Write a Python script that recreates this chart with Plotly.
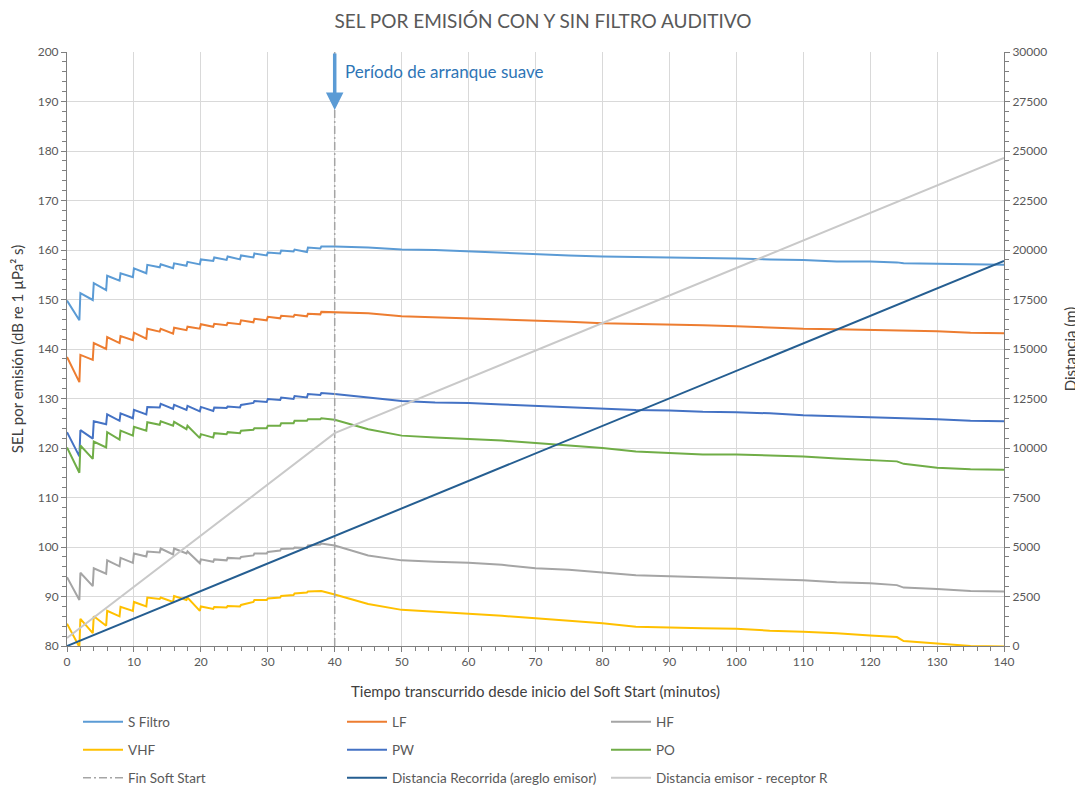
import plotly.graph_objects as go

# ---------------- data ----------------
jump_times = list(range(0, 40, 2))  # start of each soft-start step (min)
post_times = [40, 45, 50, 55, 60, 65, 70, 75, 80, 85, 90, 95, 100, 105, 110,
              115, 120, 124, 125, 130, 135, 140]

sfiltro_peaks = [149.8, 151.3, 153.3, 154.8, 155.3, 156.3, 157.0, 157.1, 157.3, 157.6,
                 158.1, 158.5, 158.7, 158.9, 159.3, 159.5, 159.9, 160.1, 160.5, 160.7]
sfiltro_troughs = [145.8, 149.9, 151.9, 153.8, 154.5, 155.3, 156.5, 156.3, 156.8, 157.1,
                   157.8, 158.0, 158.1, 158.5, 158.9, 159.3, 159.7, 159.6, 160.3]
sfiltro_post = [160.7, 160.5, 160.1, 160.0, 159.7, 159.4, 159.1, 158.9, 158.7, 158.6, 158.6,
                158.4, 158.3, 158.1, 158.0, 157.7, 157.7, 157.5, 157.3, 157.2, 157.1, 157.0]

lf_peaks = [138.4, 138.8, 141.2, 142.4, 142.6, 143.3, 144.1, 144.1, 144.3, 144.5,
            145.0, 145.1, 145.3, 145.8, 146.1, 146.5, 146.7, 146.9, 147.1, 147.5]
lf_troughs = [133.3, 137.8, 140.0, 141.2, 141.8, 142.1, 143.5, 143.1, 143.8, 144.1,
              144.5, 144.8, 145.0, 145.4, 145.8, 146.2, 146.5, 146.6, 147.0]
lf_post = [147.4, 147.2, 146.6, 146.4, 146.2, 146.0, 145.7, 145.5, 145.2, 145.1, 145.0,
           144.8, 144.6, 144.3, 144.1, 144.0, 143.9, 143.8, 143.7, 143.6, 143.3, 143.2]

hf_peaks = [93.9, 94.8, 95.7, 97.3, 97.8, 98.7, 99.1, 99.7, 99.7, 99.1,
            97.5, 97.5, 97.8, 98.0, 98.7, 99.0, 99.6, 99.9, 100.3, 100.7]
hf_troughs = [89.3, 92.1, 94.6, 96.1, 96.8, 98.1, 98.9, 98.5, 98.7, 96.7,
              97.0, 97.3, 97.7, 98.3, 98.7, 99.3, 99.7, 99.8, 100.5]
hf_post = [100.3, 98.3, 97.3, 97.0, 96.8, 96.4, 95.7, 95.4, 94.9, 94.3, 94.1,
           93.9, 93.8, 93.5, 93.3, 92.9, 92.7, 92.3, 91.8, 91.5, 91.1, 91.0]

vhf_peaks = [84.5, 85.5, 86.0, 87.1, 87.9, 88.9, 89.8, 89.8, 90.1, 89.8,
             88.0, 87.9, 88.1, 88.3, 89.3, 89.6, 90.1, 90.6, 91.0, 91.1]
vhf_troughs = [79.8, 82.6, 84.1, 86.0, 87.1, 88.0, 89.5, 88.9, 89.3, 87.1,
               87.5, 87.8, 88.0, 88.9, 89.3, 89.8, 90.3, 90.8, 91.0]
vhf_post = [90.4, 88.5, 87.3, 86.9, 86.6, 86.1, 85.6, 85.1, 84.6, 83.9, 83.7,
            83.6, 83.5, 83.1, 82.9, 82.6, 82.1, 81.8, 81.0, 80.5, 80.0, 79.9]

pw_peaks = [123.2, 123.6, 125.4, 126.8, 127.0, 127.7, 128.3, 128.9, 128.7, 128.5,
            128.3, 128.2, 128.4, 128.7, 129.5, 129.9, 130.2, 130.5, 130.9, 131.1]
pw_troughs = [118.3, 121.9, 124.8, 125.5, 126.0, 126.8, 128.2, 127.9, 127.7, 127.4,
              127.5, 128.1, 128.2, 129.1, 129.3, 129.7, 129.9, 130.2, 130.7]
pw_post = [130.9, 130.2, 129.5, 129.2, 129.1, 128.8, 128.5, 128.3, 128.0, 127.7, 127.6,
           127.3, 127.2, 127.0, 126.6, 126.4, 126.3, 126.1, 126.0, 125.8, 125.5, 125.4]

po_peaks = [120.1, 120.5, 121.3, 123.2, 123.5, 124.3, 125.2, 125.4, 125.3, 124.5,
            122.8, 123.0, 123.2, 123.5, 124.0, 124.5, 125.0, 125.5, 125.8, 126.0]
po_troughs = [115.0, 117.8, 120.1, 121.7, 122.5, 123.5, 124.7, 124.5, 123.8, 122.0,
              122.1, 122.8, 123.0, 123.7, 124.0, 124.5, 125.0, 125.5, 125.8]
po_post = [125.7, 123.8, 122.5, 122.1, 121.8, 121.5, 121.0, 120.5, 120.0, 119.3, 119.0,
           118.7, 118.7, 118.5, 118.3, 117.9, 117.6, 117.3, 116.8, 116.0, 115.7, 115.6]

fin_soft_start_t = [40, 40]
fin_soft_start_y = [80, 200]

dist_recorrida_t = [0, 140]
dist_recorrida_m = [0, 19450]
dist_receptor_t = [0, 40, 140]
dist_receptor_m = [400, 10750, 24650]

x_ticks = list(range(0, 141, 10))

# ---------------- helpers ----------------
def build(peaks, troughs, post, step=0.15):
    xs, ys = [], []
    for i, t in enumerate(jump_times):
        if i > 0:
            xs.append(t - step)
            ys.append(troughs[i - 1])
        xs.append(t)
        ys.append(peaks[i])
    xs += post_times
    ys += post
    return xs, ys

FONT = "Lato"
TXT = "#595959"
# the page body has an 8 px margin, so the figure is 8 px smaller and offset
OFF = 8
W, H = 1083 - OFF, 788 - OFF

fig = go.Figure()

series = [
    ("S Filtro", sfiltro_peaks, sfiltro_troughs, sfiltro_post, "#5B9BD5", "legend"),
    ("LF", lf_peaks, lf_troughs, lf_post, "#ED7D31", "legend"),
    ("HF", hf_peaks, hf_troughs, hf_post, "#A5A5A5", "legend"),
    ("VHF", vhf_peaks, vhf_troughs, vhf_post, "#FFC000", "legend2"),
    ("PW", pw_peaks, pw_troughs, pw_post, "#4472C4", "legend2"),
    ("PO", po_peaks, po_troughs, po_post, "#70AD47", "legend2"),
]
for name, pk, tr, po, col, lg in series:
    xs, ys = build(pk, tr, po)
    fig.add_trace(go.Scatter(x=xs, y=ys, name=name, mode="lines",
                             line=dict(color=col, width=2), legend=lg))

fig.add_trace(go.Scatter(x=fin_soft_start_t, y=fin_soft_start_y, name="Fin Soft Start",
                         mode="lines", line=dict(color="#A5A5A5", width=1.5,
                                                 dash="8px,3px,2px,3px"),
                         legend="legend3"))
fig.add_trace(go.Scatter(x=dist_recorrida_t, y=dist_recorrida_m,
                         name="Distancia Recorrida (areglo emisor)", mode="lines",
                         line=dict(color="#255E91", width=2), yaxis="y2", legend="legend3"))
fig.add_trace(go.Scatter(x=dist_receptor_t, y=dist_receptor_m,
                         name="Distancia emisor - receptor R", mode="lines",
                         line=dict(color="#C9C9C9", width=2), yaxis="y2", legend="legend3"))

axis_common = dict(showline=True, linecolor="#7F7F7F", linewidth=1, ticks="outside",
                   tickcolor="#7F7F7F", ticklen=5, zeroline=False, automargin=False,
                   tickfont=dict(family=FONT, size=12, color=TXT))
title_font = dict(family=FONT, size=15, color="#404040")

leg_common = dict(orientation="h", x=70 / W, xanchor="left", xref="container",
                  yref="container", yanchor="middle",
                  entrywidth=209, entrywidthmode="pixels", itemwidth=40,
                  bgcolor="rgba(0,0,0,0)", font=dict(family=FONT, size=13.5, color=TXT))

fig.update_layout(
    width=W, height=H,
    margin=dict(l=67 - OFF, r=79, t=52 - OFF, b=142, autoexpand=False),
    paper_bgcolor="white", plot_bgcolor="white",
    showlegend=True,
    title=dict(text="SEL POR EMISIÓN CON Y SIN FILTRO AUDITIVO", x=(543 - OFF) / W,
               xanchor="center", xref="container", y=1 - (21 - OFF) / H, yref="container",
               yanchor="middle", font=dict(family=FONT, size=19, color=TXT)),
    xaxis=dict(range=[0, 140], tickvals=x_ticks, showgrid=True, gridcolor="#D9D9D9",
               minor=dict(dtick=2, ticks="outside", ticklen=4, tickcolor="#7F7F7F",
                          showgrid=False),
               title=dict(text="Tiempo transcurrido desde inicio del Soft Start (minutos)",
                          font=title_font, standoff=18),
               **axis_common),
    yaxis=dict(range=[80, 200], dtick=10, showgrid=True, gridcolor="#D9D9D9",
               minor=dict(dtick=2, ticks="outside", ticklen=4, tickcolor="#7F7F7F",
                          showgrid=False),
               title=dict(text="SEL por emisión (dB re 1 µPa² s)", font=title_font,
                          standoff=10),
               **axis_common),
    yaxis2=dict(range=[0, 30000], dtick=2500, tickformat="d", overlaying="y", side="right",
                showgrid=False,
                minor=dict(dtick=500, ticks="outside", ticklen=4, tickcolor="#7F7F7F"),
                title=dict(text="Distancia (m)", font=title_font, standoff=19),
                **axis_common),
    legend=dict(y=1 - (722 - OFF) / H, **leg_common),
    legend2=dict(y=1 - (750 - OFF) / H, **leg_common),
    legend3=dict(y=1 - (778 - OFF) / H, **leg_common),
)

fig.add_annotation(x=40, y=188.3, ax=40, ay=200, xref="x", yref="y", axref="x", ayref="y",
                   showarrow=True, arrowhead=2, arrowsize=1, arrowwidth=3.5,
                   arrowcolor="#5B9BD5", text="")
fig.add_annotation(x=41.3, y=196, xref="x", yref="y", xanchor="left", yanchor="middle",
                   showarrow=False, text="Período de arranque suave",
                   font=dict(family=FONT, size=17, color="#2E75B6"))

fig.write_html("out.html")
